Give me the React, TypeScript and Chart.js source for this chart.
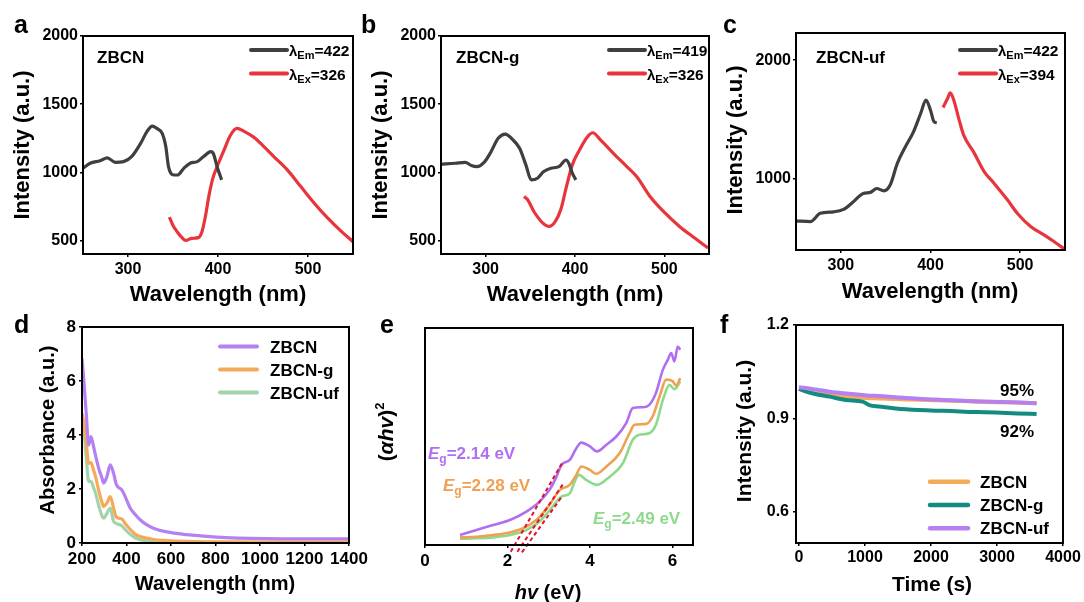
import React, { useEffect, useRef } from "react";
import { Chart, registerables } from "chart.js";

Chart.register(...registerables);

const FONT = '"Liberation Sans", Arial, Helvetica, sans-serif';

// ---------- Panel a (ZBCN) ----------
const A_TICKS_X = [300, 400, 500];
const A_TICKS_Y = [500, 1000, 1500, 2000];
const A_EXC_X = [250, 258, 269, 277, 286, 295, 304, 314, 321, 327, 332, 338, 342, 345, 351, 355, 362, 369, 377, 384, 392, 395, 399, 404];
const A_EXC_Y = [1029, 1066, 1085, 1105, 1073, 1078, 1115, 1212, 1298, 1339, 1322, 1285, 1188, 1041, 980, 980, 1029, 1066, 1078, 1115, 1151, 1134, 1041, 944];
const A_EMI_X = [346, 350, 355, 360, 364, 371, 378, 382, 386, 390, 394, 399, 406, 414, 421, 429, 440, 451, 462, 477, 492, 507, 522, 537, 550];
const A_EMI_Y = [671, 610, 560, 520, 500, 515, 520, 560, 675, 830, 950, 1041, 1151, 1273, 1322, 1300, 1256, 1188, 1115, 1017, 895, 773, 663, 566, 490];

// ---------- Panel b (ZBCN-g) ----------
const B_TICKS_X = [300, 400, 500];
const B_TICKS_Y = [500, 1000, 1500, 2000];
const B_EXC_X = [250, 266, 277, 284, 290, 299, 306, 314, 322, 330, 338, 345, 351, 358, 365, 373, 382, 390, 393, 397, 401];
const B_EXC_Y = [1059, 1066, 1073, 1049, 1041, 1078, 1151, 1249, 1280, 1241, 1176, 1054, 944, 956, 1005, 1029, 1041, 1090, 1066, 993, 944];
const B_EMI_X = [343, 347, 354, 364, 371, 378, 384, 390, 397, 404, 414, 420, 428, 443, 458, 469, 484, 499, 517, 534, 549];
const B_EMI_Y = [822, 798, 712, 627, 602, 639, 724, 883, 1054, 1151, 1261, 1290, 1241, 1139, 1041, 968, 822, 712, 602, 517, 444];

// ---------- Panel c (ZBCN-uf) ----------
const C_TICKS_X = [300, 400, 500];
const C_TICKS_Y = [1000, 2000];
const C_EXC_X = [250, 266, 277, 292, 303, 314, 325, 333, 340, 348, 355, 363, 372, 381, 389, 395, 400, 404, 407];
const C_EXC_Y = [642, 635, 705, 718, 738, 803, 873, 882, 915, 895, 944, 1127, 1268, 1394, 1549, 1662, 1577, 1479, 1470];
const C_EMI_X = [414, 419, 422, 426, 432, 437, 448, 460, 471, 486, 497, 512, 527, 538, 550];
const C_EMI_Y = [1600, 1676, 1724, 1662, 1493, 1366, 1225, 1056, 958, 817, 704, 592, 521, 465, 400];

// ---------- Panel d (absorbance) ----------
const D_TICKS_X = [200, 400, 600, 800, 1000, 1200, 1400];
const D_TICKS_Y = [0, 2, 4, 6, 8];
const D_X = [200, 207, 219, 230, 240, 252, 262, 275, 290, 297, 312, 327, 342, 355, 379, 394, 417, 440, 461, 490, 521, 581, 670, 805, 1029, 1200, 1400];
const D_ZBCN = [6.83, 6.15, 4.8, 3.63, 3.94, 3.57, 3.2, 2.77, 2.4, 2.22, 2.46, 2.89, 2.58, 2.15, 1.97, 1.72, 1.29, 1.05, 0.86, 0.68, 0.55, 0.41, 0.31, 0.22, 0.16, 0.15, 0.15];
const D_ZBCN_G = [4.8, 4.5, 3.69, 2.95, 2.98, 2.7, 2.42, 1.95, 1.5, 1.35, 1.48, 1.72, 1.29, 0.95, 0.89, 0.72, 0.5, 0.32, 0.24, 0.18, 0.13, 0.09, 0.06, 0.04, 0.03, 0.03, 0.03];
const D_ZBCN_UF = [4.6, 4.3, 3.2, 2.28, 2.28, 2.05, 1.82, 1.4, 1.0, 0.92, 1.1, 1.29, 0.8, 0.72, 0.64, 0.5, 0.32, 0.18, 0.12, 0.07, 0.05, 0.03, 0.02, 0.02, 0.02, 0.02, 0.02];

// ---------- Panel e (Tauc plot) ----------
const E_TICKS_X = [0, 2, 4, 6];
const E_P_X = [0.85, 1.25, 1.65, 2.06, 2.46, 2.78, 3.02, 3.19, 3.31, 3.51, 3.67, 3.79, 4.0, 4.17, 4.4, 4.64, 4.88, 5.04, 5.28, 5.44, 5.6, 5.77, 5.89, 5.97, 6.05, 6.13, 6.19];
const E_P_Y = [4.6, 6.9, 9.2, 11.5, 15.4, 20, 25.4, 31.5, 36.9, 39.2, 44.6, 47.2, 45.4, 43.1, 46.2, 50, 56.2, 63.1, 63.5, 64.6, 70, 80.8, 85.4, 88.5, 84.6, 91.5, 90];
const E_O_X = [0.85, 1.25, 1.65, 2.06, 2.38, 2.7, 3.02, 3.27, 3.51, 3.67, 3.79, 4.0, 4.15, 4.4, 4.72, 4.96, 5.08, 5.36, 5.52, 5.69, 5.85, 6.01, 6.09, 6.19];
const E_O_Y = [3.5, 3.8, 4.6, 5.8, 7.7, 11.5, 18.5, 25.4, 27.7, 32.3, 36.2, 34.6, 32.8, 36.2, 42.3, 51.5, 55.4, 55.8, 59.2, 68.5, 76.2, 75.4, 73.4, 76.9];
const E_G_X = [0.85, 1.25, 1.65, 2.06, 2.46, 2.78, 3.06, 3.31, 3.51, 3.63, 3.73, 3.91, 4.17, 4.48, 4.8, 5.04, 5.2, 5.44, 5.6, 5.77, 5.93, 6.05, 6.19];
const E_G_Y = [2.9, 3.1, 3.5, 4.6, 6.9, 10.8, 16.9, 22.3, 23.8, 29.2, 32.3, 30, 27.7, 31.5, 37.7, 48.5, 50.8, 51.5, 55.4, 66.9, 73.8, 71.8, 75.4];
const E_T1_X = [2.08, 3.32];
const E_T1_Y = [-3.1, 37.6];
const E_T2_X = [2.24, 3.37];
const E_T2_Y = [-3.1, 28.7];
const E_T3_X = [2.35, 3.32];
const E_T3_Y = [-3.4, 22.3];

// ---------- Panel f (stability) ----------
const F_TICKS_X = [0, 1000, 2000, 3000, 4000];
const F_TICKS_Y = [0.6, 0.9, 1.2];
const F_X = [0, 100, 215, 465, 715, 965, 1065, 1215, 1465, 1815, 2065, 2315, 2565, 2815, 3065, 3315, 3600];
const F_ZBCN = [0.995, 0.988, 0.982, 0.975, 0.97, 0.966, 0.965, 0.964, 0.962, 0.96, 0.958, 0.957, 0.955, 0.953, 0.952, 0.951, 0.949];
const F_ZBCN_G = [0.995, 0.987, 0.98, 0.97, 0.959, 0.954, 0.943, 0.938, 0.932, 0.927, 0.925, 0.924, 0.921, 0.92, 0.918, 0.916, 0.914];
const F_ZBCN_UF = [1.0, 0.998, 0.994, 0.986, 0.98, 0.975, 0.973, 0.972, 0.968, 0.963, 0.961, 0.958, 0.956, 0.954, 0.953, 0.951, 0.949];

// ---------- colours ----------
const C_BLACK = "#3f3f3f";
const C_RED = "#e8353d";
const C_PURPLE = "#b581f1";
const C_ORANGE = "#f5aa5a";
const C_GREEN = "#a2d3ab";
const C_TEAL = "#138b81";
const E_PURPLE = "#b06ef0";
const E_ORANGE = "#f0a052";
const E_GREEN = "#8fd98c";
const E_RED = "#e0142a";

type Seg = { t: string; s: number; i?: boolean; dy?: number; n?: boolean };

function segFont(g: Seg) {
  return `${g.i ? "italic " : ""}${g.n ? "" : "bold "}${g.s}px ${FONT}`;
}

function rich(ctx: CanvasRenderingContext2D, segs: Seg[], x: number, y: number, align: "left" | "center", color: string) {
  let w = 0;
  for (const g of segs) {
    ctx.font = segFont(g);
    w += ctx.measureText(g.t).width;
  }
  let cx = align === "center" ? x - w / 2 : x;
  ctx.fillStyle = color;
  ctx.textAlign = "left";
  ctx.textBaseline = "alphabetic";
  for (const g of segs) {
    ctx.font = segFont(g);
    ctx.fillText(g.t, cx, y + (g.dy || 0));
    cx += ctx.measureText(g.t).width;
  }
}

function richV(ctx: CanvasRenderingContext2D, segs: Seg[], cx: number, cy: number, size: number, color: string) {
  ctx.save();
  ctx.translate(cx, cy);
  ctx.rotate(-Math.PI / 2);
  rich(ctx, segs, 0, size * 0.36, "center", color);
  ctx.restore();
}

function text(ctx: CanvasRenderingContext2D, t: string, x: number, y: number, size: number, align: "left" | "center", color = "#000") {
  rich(ctx, [{ t, s: size }], x, y, align, color);
}

function legLine(ctx: CanvasRenderingContext2D, x1: number, x2: number, y: number, color: string, w = 4) {
  ctx.save();
  ctx.strokeStyle = color;
  ctx.lineWidth = w;
  ctx.lineCap = "round";
  ctx.beginPath();
  ctx.moveTo(x1, y);
  ctx.lineTo(x2, y);
  ctx.stroke();
  ctx.restore();
}

function series(xs: number[], ys: number[], color: string, width: number, extra: any = {}) {
  return {
    data: xs.map((x, i) => ({ x, y: ys[i] })),
    borderColor: color,
    backgroundColor: color,
    borderWidth: width,
    pointRadius: 0,
    fill: false,
    cubicInterpolationMode: "monotone",
    ...extra,
  };
}

type Spec = {
  left: number;
  top: number;
  width: number;
  height: number;
  area: { l: number; t: number; r: number; b: number };
  x: { min: number; max: number; ticks: number[] };
  y: { min: number; max: number; ticks: number[]; hide?: boolean };
  tickSize: number;
  xPad: number;
  yPad: number;
  datasets: any[];
  draw: (ctx: CanvasRenderingContext2D) => void;
};

function buildConfig(spec: Spec): any {
  const tickFont = { family: FONT, size: spec.tickSize, weight: "bold" };
  return {
    type: "line",
    data: { datasets: spec.datasets },
    options: {
      animation: false,
      responsive: false,
      maintainAspectRatio: false,
      events: [],
      layout: {
        autoPadding: false,
        padding: { top: spec.area.t, right: spec.width - spec.area.r, left: 0, bottom: 0 },
      },
      plugins: { legend: { display: false }, tooltip: { enabled: false } },
      scales: {
        x: {
          type: "linear",
          min: spec.x.min,
          max: spec.x.max,
          afterBuildTicks: (s: any) => {
            s.ticks = spec.x.ticks.map((v) => ({ value: v }));
          },
          afterFit: (s: any) => {
            s.height = spec.height - spec.area.b;
            s.paddingLeft = 0;
            s.paddingRight = 0;
          },
          ticks: {
            color: "#000",
            font: tickFont,
            padding: spec.xPad,
            maxRotation: 0,
            autoSkip: false,
            callback: (v: any) => String(v),
          },
          grid: { display: true, drawOnChartArea: false, drawTicks: true, tickLength: 3, color: "#000", lineWidth: 1.5 },
          border: { display: false },
        },
        y: {
          type: "linear",
          min: spec.y.min,
          max: spec.y.max,
          afterBuildTicks: (s: any) => {
            s.ticks = spec.y.ticks.map((v) => ({ value: v }));
          },
          afterFit: (s: any) => {
            s.width = spec.area.l;
            s.paddingTop = 0;
            s.paddingBottom = 0;
          },
          ticks: {
            display: !spec.y.hide,
            color: "#000",
            font: tickFont,
            padding: spec.yPad,
            autoSkip: false,
            callback: (v: any) => String(v),
          },
          grid: { display: !spec.y.hide, drawOnChartArea: false, drawTicks: true, tickLength: 3, color: "#000", lineWidth: 1.5 },
          border: { display: false },
        },
      },
    },
    plugins: [
      {
        id: "deco",
        afterDraw(chart: any) {
          const ctx: CanvasRenderingContext2D = chart.ctx;
          const a = chart.chartArea;
          ctx.save();
          ctx.strokeStyle = "#000";
          ctx.lineWidth = 2;
          ctx.strokeRect(a.left, a.top, a.right - a.left, a.bottom - a.top);
          spec.draw(ctx);
          ctx.restore();
        },
      },
    ],
  };
}

function Panel({ spec }: { spec: Spec }) {
  const ref = useRef<HTMLCanvasElement>(null);
  useEffect(() => {
    const c = ref.current;
    if (!c) return;
    const chart = new Chart(c, buildConfig(spec));
    return () => chart.destroy();
  }, [spec]);
  return (
    <canvas
      ref={ref}
      width={spec.width}
      height={spec.height}
      style={{ position: "absolute", left: spec.left, top: spec.top, width: spec.width, height: spec.height }}
    />
  );
}

function topLegend(ctx: CanvasRenderingContext2D, x1: number, x2: number, tx: number, em: string, ex: string) {
  legLine(ctx, x1, x2, 50, C_BLACK, 4);
  legLine(ctx, x1, x2, 73.5, C_RED, 4);
  rich(ctx, [{ t: "λ", s: 15 }, { t: "Em", s: 11, dy: 3 }, { t: "=" + em, s: 15.5 }], tx, 55.5, "left", "#000");
  rich(ctx, [{ t: "λ", s: 15 }, { t: "Ex", s: 11, dy: 3 }, { t: "=" + ex, s: 15.5 }], tx, 80, "left", "#000");
}

const SPEC_A: Spec = {
  left: 0, top: 0, width: 362, height: 312,
  area: { l: 83, t: 36, r: 353, b: 254 },
  x: { min: 250, max: 550, ticks: A_TICKS_X },
  y: { min: 400, max: 2000, ticks: A_TICKS_Y },
  tickSize: 16, xPad: 3, yPad: 2,
  datasets: [series(A_EXC_X, A_EXC_Y, C_BLACK, 3.2), series(A_EMI_X, A_EMI_Y, C_RED, 3.2)],
  draw: (ctx) => {
    text(ctx, "a", 14, 33, 25, "left");
    richV(ctx, [{ t: "Intensity (a.u.)", s: 22 }], 21, 145, 22, "#000");
    text(ctx, "Wavelength (nm)", 218, 301, 22, "center");
    text(ctx, "ZBCN", 97, 63, 17, "left");
    topLegend(ctx, 251, 287, 289, "422", "326");
  },
};

const SPEC_B: Spec = {
  left: 360, top: 0, width: 358, height: 312,
  area: { l: 81, t: 36, r: 349, b: 254 },
  x: { min: 250, max: 550, ticks: B_TICKS_X },
  y: { min: 400, max: 2000, ticks: B_TICKS_Y },
  tickSize: 16, xPad: 3, yPad: 2,
  datasets: [series(B_EXC_X, B_EXC_Y, C_BLACK, 3.2), series(B_EMI_X, B_EMI_Y, C_RED, 3.2)],
  draw: (ctx) => {
    text(ctx, "b", 1, 33, 25, "left");
    richV(ctx, [{ t: "Intensity (a.u.)", s: 22 }], 19, 145, 22, "#000");
    text(ctx, "Wavelength (nm)", 215, 301, 22, "center");
    text(ctx, "ZBCN-g", 96, 63, 17, "left");
    topLegend(ctx, 249, 285, 287, "419", "326");
  },
};

const SPEC_C: Spec = {
  left: 718, top: 0, width: 366, height: 312,
  area: { l: 78, t: 33, r: 347, b: 250 },
  x: { min: 250, max: 550, ticks: C_TICKS_X },
  y: { min: 395, max: 2230, ticks: C_TICKS_Y },
  tickSize: 16, xPad: 3, yPad: 2,
  datasets: [series(C_EXC_X, C_EXC_Y, C_BLACK, 3.2), series(C_EMI_X, C_EMI_Y, C_RED, 3.2)],
  draw: (ctx) => {
    text(ctx, "c", 5, 33, 25, "left");
    richV(ctx, [{ t: "Intensity (a.u.)", s: 22 }], 16, 140, 22, "#000");
    text(ctx, "Wavelength (nm)", 212, 298, 22, "center");
    text(ctx, "ZBCN-uf", 98, 63, 17, "left");
    topLegend(ctx, 242, 278, 280, "422", "394");
  },
};

const SPEC_D: Spec = {
  left: 0, top: 300, width: 372, height: 302,
  area: { l: 82, t: 27, r: 349, b: 243 },
  x: { min: 200, max: 1400, ticks: D_TICKS_X },
  y: { min: 0, max: 8, ticks: D_TICKS_Y },
  tickSize: 17, xPad: 3, yPad: 3,
  datasets: [
    series(D_X, D_ZBCN, C_PURPLE, 3.2),
    series(D_X, D_ZBCN_G, C_ORANGE, 3.2),
    series(D_X, D_ZBCN_UF, C_GREEN, 3.2),
  ],
  draw: (ctx) => {
    text(ctx, "d", 14, 33, 25, "left");
    richV(ctx, [{ t: "Absorbance (a.u.)", s: 20 }], 47, 130, 20, "#000");
    text(ctx, "Wavelength (nm)", 215, 290, 20, "center");
    legLine(ctx, 220, 257, 46.5, C_PURPLE, 4);
    legLine(ctx, 220, 257, 69.5, C_ORANGE, 4);
    legLine(ctx, 220, 257, 92.5, C_GREEN, 4);
    text(ctx, "ZBCN", 270, 52.5, 17, "left");
    text(ctx, "ZBCN-g", 270, 75.5, 17, "left");
    text(ctx, "ZBCN-uf", 270, 98.5, 17, "left");
  },
};

const SPEC_E: Spec = {
  left: 360, top: 300, width: 352, height: 302,
  area: { l: 65, t: 28, r: 333, b: 245 },
  x: { min: 0, max: 6.5, ticks: E_TICKS_X },
  y: { min: 0, max: 100, ticks: [], hide: true },
  tickSize: 17, xPad: 3, yPad: 2,
  datasets: [
    series(E_T1_X, E_T1_Y, E_RED, 2, { borderDash: [4, 3], clip: false, cubicInterpolationMode: "default", tension: 0 }),
    series(E_T2_X, E_T2_Y, E_RED, 2, { borderDash: [4, 3], clip: false, cubicInterpolationMode: "default", tension: 0 }),
    series(E_T3_X, E_T3_Y, E_RED, 2, { borderDash: [4, 3], clip: false, cubicInterpolationMode: "default", tension: 0 }),
    series(E_P_X, E_P_Y, E_PURPLE, 2.6),
    series(E_O_X, E_O_Y, E_ORANGE, 2.6),
    series(E_G_X, E_G_Y, E_GREEN, 2.6),
  ],
  draw: (ctx) => {
    text(ctx, "e", 20, 33, 25, "left");
    richV(
      ctx,
      [{ t: "(", s: 21 }, { t: "αhv", s: 21, i: true }, { t: ")", s: 21 }, { t: "2", s: 13, dy: -9 }],
      25, 132, 21, "#000"
    );
    rich(ctx, [{ t: "hv", s: 20, i: true }, { t: " (eV)", s: 20 }], 188, 299, "center", "#000");
    const eg = (x: number, y: number, v: string, col: string) =>
      rich(ctx, [{ t: "E", s: 17, i: true }, { t: "g", s: 12, dy: 4 }, { t: "=" + v + " eV", s: 17 }], x, y, "left", col);
    eg(68, 159, "2.14", E_PURPLE);
    eg(83, 191, "2.28", E_ORANGE);
    eg(233, 224, "2.49", E_GREEN);
  },
};

const SPEC_F: Spec = {
  left: 712, top: 300, width: 372, height: 302,
  area: { l: 84, t: 25, r: 351, b: 243 },
  x: { min: -45, max: 4000, ticks: F_TICKS_X },
  y: { min: 0.5, max: 1.2, ticks: F_TICKS_Y },
  tickSize: 16, xPad: 2, yPad: 4,
  datasets: [
    series(F_X, F_ZBCN_UF, C_PURPLE, 4, { order: 0 }),
    series(F_X, F_ZBCN_G, C_TEAL, 4, { order: 1 }),
    series(F_X, F_ZBCN, C_ORANGE, 4, { order: 2 }),
  ],
  draw: (ctx) => {
    text(ctx, "f", 8, 33, 25, "left");
    richV(ctx, [{ t: "Intensity (a.u.)", s: 21 }], 31, 131, 21, "#000");
    text(ctx, "Time (s)", 220, 291, 21, "center");
    text(ctx, "95%", 305, 96, 17, "center");
    text(ctx, "92%", 305, 137, 17, "center");
    legLine(ctx, 218, 256, 181.7, C_ORANGE, 4.5);
    legLine(ctx, 218, 256, 205, C_TEAL, 4.5);
    legLine(ctx, 218, 256, 228.3, C_PURPLE, 4.5);
    text(ctx, "ZBCN", 268, 187.7, 17, "left");
    text(ctx, "ZBCN-g", 268, 211, 17, "left");
    text(ctx, "ZBCN-uf", 268, 234.3, 17, "left");
  },
};

const SPECS = [SPEC_A, SPEC_B, SPEC_C, SPEC_D, SPEC_E, SPEC_F];

export default function App() {
  return (
    <div style={{ position: "absolute", left: 0, top: 0, width: 1084, height: 602, background: "#fff", overflow: "hidden" }}>
      {SPECS.map((s, i) => (
        <Panel key={i} spec={s} />
      ))}
    </div>
  );
}
